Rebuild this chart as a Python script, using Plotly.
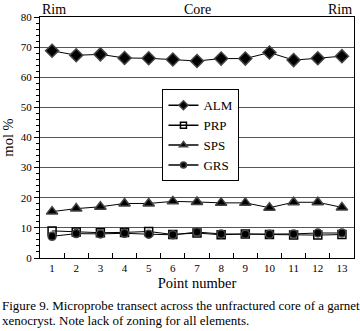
import plotly.graph_objects as go

points = list(range(1, 14))
alm = [68.8, 67.3, 67.6, 66.4, 66.3, 65.9, 65.4, 66.2, 66.2, 68.2, 65.7, 66.3, 67.0]
prp = [9.0, 8.6, 8.4, 8.5, 8.8, 7.8, 8.3, 7.7, 8.0, 7.8, 7.6, 7.6, 7.8]
sps = [15.4, 16.4, 17.0, 18.1, 18.1, 18.8, 18.6, 18.3, 18.3, 16.7, 18.5, 18.5, 16.8]
grs = [7.2, 8.1, 8.0, 8.2, 7.9, 7.7, 8.6, 8.0, 7.9, 7.9, 8.0, 8.3, 8.3]
y_ticks = [0, 10, 20, 30, 40, 50, 60, 70, 80]
caption_lines = ["Figure 9. Microprobe transect across the unfractured core of a garnet",
                 "xenocryst. Note lack of zoning for all elements."]

FONT = "Liberation Serif, Times New Roman, serif"

fig = go.Figure()
series = [
    ("ALM", alm, "diamond", 10, 7),
    ("PRP", prp, "square-open", 8, 6),
    ("SPS", sps, "triangle-up", 10, 7),
    ("GRS", grs, "circle", 8, 6),
]
for name, vals, sym, size, lsize in series:
    fig.add_trace(go.Scatter(x=points, y=vals, name=name, mode="lines+markers",
                             showlegend=False,
                             line=dict(color="black", width=1),
                             marker=dict(symbol=sym, size=size, color="black", line=dict(width=1.5))))
for name, vals, sym, size, lsize in series:
    fig.add_trace(go.Scatter(x=[None], y=[None], name=name, mode="lines+markers",
                             line=dict(color="black", width=1.5),
                             marker=dict(symbol=sym, size=lsize, color="black", line=dict(width=1.5))))

# invisible trace on secondary x axis for between-category ticks
fig.add_trace(go.Scatter(x=[0.5, 13.5], y=[None, None], xaxis="x2", showlegend=False,
                         hoverinfo="skip"))

fig.update_layout(
    width=360, height=331,
    margin=dict(l=40, r=6, t=17, b=73, autoexpand=False),
    paper_bgcolor="white", plot_bgcolor="white",
    font=dict(family=FONT, color="black", size=11),
    xaxis=dict(range=[0.5, 13.5], tickmode="array", tickvals=points,
               ticks="", showgrid=False, zeroline=False, automargin=False,
               showline=True, linecolor="black", linewidth=1, mirror=True,
               tickfont=dict(size=11),
               title=dict(text="Point number", font=dict(size=14.5), standoff=4)),
    xaxis2=dict(range=[0.5, 13.5], overlaying="x", anchor="y", side="bottom",
                tickmode="array", tickvals=[i + 0.5 for i in range(1, 13)],
                ticks="inside", ticklen=5, tickcolor="black", showticklabels=False,
                showgrid=False, zeroline=False, showline=False),
    yaxis=dict(range=[0, 80], tickmode="array", tickvals=y_ticks,
               ticks="outside", ticklen=5, tickcolor="black", automargin=False,
               minor=dict(dtick=2, ticks="outside", ticklen=3, tickcolor="black", showgrid=False),
               showgrid=True, gridcolor="#555555", gridwidth=1, zeroline=False,
               showline=True, linecolor="black", linewidth=1, mirror=True,
               tickfont=dict(size=11),
               title=dict(text="mol %", font=dict(size=14.5), standoff=6)),
    legend=dict(x=0.39, y=0.70, xanchor="left", yanchor="top",
                bgcolor="white", bordercolor="black", borderwidth=1,
                font=dict(size=13, family=FONT), tracegroupgap=0,
                itemwidth=30),
    showlegend=True,
)

fig.add_annotation(text="Rim", x=0, y=1, xref="paper", yref="paper", xanchor="left",
                   yanchor="bottom", showarrow=False, font=dict(size=14), yshift=-2)
fig.add_annotation(text="Core", x=0.5, y=1, xref="paper", yref="paper", xanchor="center",
                   yanchor="bottom", showarrow=False, font=dict(size=14), yshift=-2)
fig.add_annotation(text="Rim", x=1, y=1, xref="paper", yref="paper", xanchor="right",
                   yanchor="bottom", showarrow=False, font=dict(size=14), yshift=-2)

for i, line in enumerate(caption_lines):
    fig.add_annotation(text=line, x=-40/314, y=(258-(305 + 15*i))/241,
                       xref="paper", yref="paper", showarrow=False,
                       align="left", xanchor="left", yanchor="middle",
                       font=dict(size=13))

fig.write_html("out.html", config={"displayModeBar": False},
               post_script="document.body.style.margin='0';document.body.style.overflow='hidden';")
